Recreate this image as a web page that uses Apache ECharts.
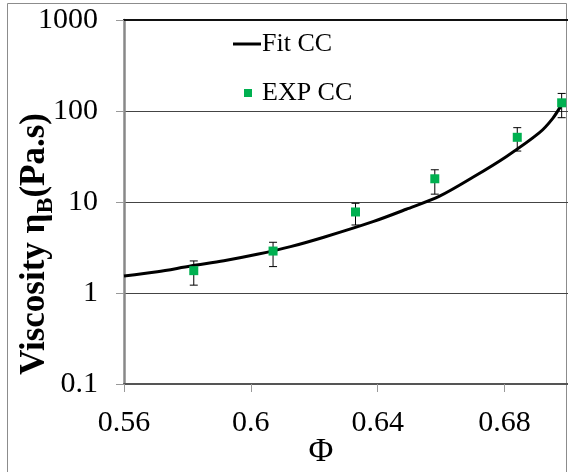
<!DOCTYPE html>
<html>
<head>
<meta charset="utf-8">
<script src="https://cdn.jsdelivr.net/npm/echarts@6/dist/echarts.min.js"></script>
<style>html,body{margin:0;padding:0;background:#fff;}#c{width:568px;height:472px;}</style>
</head>
<body>
<div id="c"></div>
<script>
// Fit curve
const fitPhi = [0.560,0.5705,0.5810,0.5915,0.6020,0.6125,0.6230,0.6385,0.6490,0.6595,0.6700,0.6805,0.6910,0.6952,0.6979];
const fitEta = [1.54,1.71,1.98,2.26,2.66,3.23,4.10,6.08,8.32,11.6,18.7,31.5,57.8,83.1,116];
// Experimental points
const expPhi = [0.582,0.607,0.633,0.658,0.684,0.698];
const expEta = [1.76,2.89,7.77,18.0,51.4,123];
const errLow = [1.22,1.95,5.59,12.2,36.3,84.4];
const errHigh = [2.25,3.61,9.68,22.6,65.6,156];
// Tick labels
const xTicks = ['0.56','0.6','0.64','0.68'];
const yTicks = ['0.1','1','10','100','1000'];

const serif = 'Liberation Serif';
const chart = echarts.init(document.getElementById('c'), null, {renderer:'canvas'});
const fitData = fitPhi.map((x,i)=>[x, fitEta[i]]);
const expData = expPhi.map((x,i)=>[x, expEta[i]]);
const errData = expPhi.map((x,i)=>[x, errLow[i], errHigh[i]]);

chart.setOption({
  animation:false,
  backgroundColor:'#fff',
  graphic:[{type:'rect', shape:{x:7.5,y:3.5,width:559,height:480}, style:{fill:'none', stroke:'#8c8c8c', lineWidth:1}, silent:true, z:-1}],
  grid:{left:124, top:20, right:0, bottom:88, show:false, containLabel:false, outerBoundsMode:'none'},
  legend:[
    {left:233, top:31, padding:0, orient:'vertical', itemWidth:28, itemHeight:3, itemGap:0,
     data:[{name:'Fit CC', icon:'rect', itemStyle:{color:'#000'}}],
     textStyle:{fontFamily:serif, fontSize:26, color:'#000', padding:[0,0,0,-4]}},
    {left:244, top:80, padding:0, orient:'vertical', itemWidth:18, itemHeight:8, itemGap:0,
     data:[{name:'EXP CC', icon:'path://M0,0 L8,0 L8,8 L0,8 Z', itemStyle:{color:'#00B050'}}],
     textStyle:{fontFamily:serif, fontSize:26, color:'#000'}}
  ],
  xAxis:[{
    type:'value', min:0.56, max:0.70, interval:0.04,
    name:'Φ', nameLocation:'middle', nameGap:51, nameMoveOverlap:false,
    nameTextStyle:{fontFamily:serif, fontSize:34, color:'#000', padding:[0,50,0,0]},
    axisLine:{show:true, onZero:false, lineStyle:{color:'#555', width:2}},
    axisTick:{show:true, length:8, lineStyle:{color:'#999', width:1}},
    axisLabel:{fontFamily:serif, fontSize:30, color:'#000', margin:24, showMaxLabel:false,
      formatter:(v)=>{const i=Math.round((v-0.56)/0.04); return xTicks[i]!==undefined?xTicks[i]:'';}},
    splitLine:{show:false}
  },{
    type:'value', position:'top', min:0.56, max:0.70,
    axisLine:{show:true, onZero:false, lineStyle:{color:'#111', width:2.2}},
    axisTick:{show:false}, axisLabel:{show:false}, splitLine:{show:false}
  }],
  yAxis:{
    type:'log', logBase:10, min:0.1, max:1000,
    name:'{a|Viscosity η}{b|B}{a|(Pa.s)}', nameLocation:'middle', nameGap:72, nameRotate:90, nameMoveOverlap:false,
    nameTextStyle:{padding:[0,84,0,0], rich:{
      a:{fontFamily:serif, fontSize:35, fontWeight:'bold', color:'#000'},
      b:{fontFamily:serif, fontSize:24, fontWeight:'bold', color:'#000', verticalAlign:'bottom', padding:[0,0,-6,0]}
    }},
    axisLine:{show:true, lineStyle:{color:'#888', width:2.5}},
    axisTick:{show:true, length:8, lineStyle:{color:'#999', width:1}},
    axisLabel:{fontFamily:serif, fontSize:30, color:'#000', margin:26,
      formatter:(v)=>{const i=Math.round(Math.log10(v))+1; return yTicks[i]!==undefined?yTicks[i]:'';}},
    splitLine:{show:true, showMinLine:false, showMaxLine:true, lineStyle:{color:'#444', width:1.2}},
    minorTick:{show:false}
  },
  series:[
    {name:'Fit CC', type:'line', data:fitData, smooth:0.3, showSymbol:false, symbol:'none',
     lineStyle:{color:'#000', width:3}, itemStyle:{color:'#000'}, z:3},
    {name:'err', type:'custom', data:errData, z:4,
     renderItem:(params, api)=>{
       const x = api.value(0);
       const lo = api.coord([x, api.value(1)]);
       const hi = api.coord([x, api.value(2)]);
       const cw = 4;
       return {type:'group', children:[
         {type:'line', shape:{x1:lo[0],y1:lo[1],x2:hi[0],y2:hi[1]}, style:{stroke:'#000', lineWidth:1}},
         {type:'line', shape:{x1:lo[0]-cw,y1:lo[1],x2:lo[0]+cw,y2:lo[1]}, style:{stroke:'#000', lineWidth:1}},
         {type:'line', shape:{x1:hi[0]-cw,y1:hi[1],x2:hi[0]+cw,y2:hi[1]}, style:{stroke:'#000', lineWidth:1}}
       ]};
     }},
    {name:'EXP CC', type:'scatter', data:expData, symbol:'rect', symbolSize:9,
     itemStyle:{color:'#00B050', opacity:1}, z:5}
  ]
});
</script>
</body>
</html>
